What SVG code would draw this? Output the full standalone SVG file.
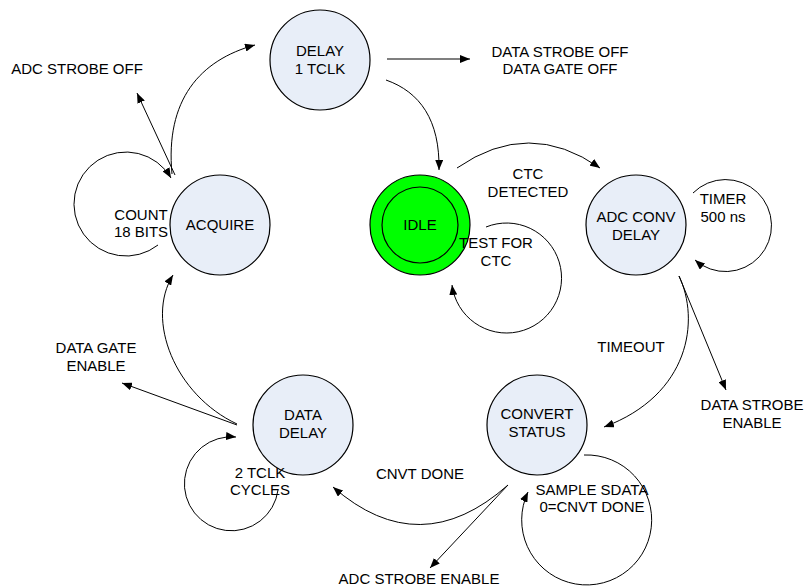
<svg xmlns="http://www.w3.org/2000/svg" width="805" height="586" viewBox="0 0 805 586">
<defs>
<marker id="ah" markerUnits="userSpaceOnUse" markerWidth="11" markerHeight="8" refX="10" refY="4" orient="auto">
<path d="M0,0 L10,4 L0,8 z" fill="#000"/>
</marker>
<style>
.st{fill:#E8EEF8;stroke:#000;stroke-width:1.2}
.lb{font-family:"Liberation Sans",Arial,sans-serif;font-size:15px;fill:#000;text-anchor:middle}
.cn{fill:none;stroke:#000;stroke-width:1;marker-end:url(#ah)}
</style>
</defs>
<rect width="805" height="586" fill="#fff"/>
<g id="connectors">
<path class="cn" d="M172,174 C165,100 200,60 255,45"/>
<path class="cn" d="M175,175 L137,93"/>
<path class="cn" d="M158,245 A52,52 0 1 1 171,178"/>
<path class="cn" d="M387,59 L470,59" style="stroke:#555;stroke-width:1.6"/>
<path class="cn" d="M386,80 C420,92 440,120 439,170"/>
<path class="cn" d="M457,168 Q529,118 600,168"/>
<path class="cn" d="M486,227 A55,55 0 1 1 452,285"/>
<path class="cn" d="M693,193 A46,46 0 1 1 695,260"/>
<path class="cn" d="M679,276 C700,320 690,395 604,427"/>
<path class="cn" d="M679,276 L726,390"/>
<path class="cn" d="M584,455 A65,65 0 1 1 528,492"/>
<path class="cn" d="M508,485 Q420,563 333,487"/>
<path class="cn" d="M508,485 L430,568"/>
<path class="cn" d="M237,425 L122,383"/>
<path class="cn" d="M237,424 C175,395 145,320 173,275"/>
<path class="cn" d="M278,490 A47,47 0 1 1 236,437"/>
</g>
<g id="delay1">
<circle class="st" cx="320" cy="60" r="50"/>
<text class="lb" x="320" y="56">DELAY</text>
<text class="lb" x="320" y="74">1 TCLK</text>
</g>
<g id="acquire">
<circle class="st" cx="220" cy="225" r="50"/>
<text class="lb" x="220" y="230">ACQUIRE</text>
</g>
<g id="idle">
<circle cx="420" cy="225" r="50" fill="#00FF00" stroke="#000" stroke-width="1.2"/>
<circle cx="420" cy="225" r="38" fill="none" stroke="#000" stroke-width="1.2"/>
<text class="lb" x="420" y="230">IDLE</text>
</g>
<g id="adcconv">
<circle class="st" cx="636" cy="225" r="50"/>
<text class="lb" x="636" y="222">ADC CONV</text>
<text class="lb" x="636" y="240">DELAY</text>
</g>
<g id="convert">
<circle class="st" cx="537" cy="425" r="50"/>
<text class="lb" x="537" y="419">CONVERT</text>
<text class="lb" x="537" y="437">STATUS</text>
</g>
<g id="datadelay">
<circle class="st" cx="303" cy="425" r="50"/>
<text class="lb" x="303" y="420">DATA</text>
<text class="lb" x="303" y="438">DELAY</text>
</g>
<g id="labels">
<text class="lb" x="77" y="74">ADC STROBE OFF</text>
<text class="lb" x="560" y="57">DATA STROBE OFF</text>
<text class="lb" x="560" y="74">DATA GATE OFF</text>
<text class="lb" x="528" y="179">CTC</text>
<text class="lb" x="528" y="197">DETECTED</text>
<text class="lb" x="496" y="248">TEST FOR</text>
<text class="lb" x="496" y="266">CTC</text>
<text class="lb" x="723" y="204">TIMER</text>
<text class="lb" x="723" y="222">500 ns</text>
<text class="lb" x="141" y="220">COUNT</text>
<text class="lb" x="141" y="237">18 BITS</text>
<text class="lb" x="631" y="352">TIMEOUT</text>
<text class="lb" x="752" y="410">DATA STROBE</text>
<text class="lb" x="752" y="428">ENABLE</text>
<text class="lb" x="420" y="479">CNVT DONE</text>
<text class="lb" x="592" y="495">SAMPLE SDATA</text>
<text class="lb" x="592" y="512">0=CNVT DONE</text>
<text class="lb" x="419" y="584">ADC STROBE ENABLE</text>
<text class="lb" x="96" y="353">DATA GATE</text>
<text class="lb" x="96" y="371">ENABLE</text>
<text class="lb" x="260" y="478">2 TCLK</text>
<text class="lb" x="260" y="495">CYCLES</text>
</g>
</svg>
